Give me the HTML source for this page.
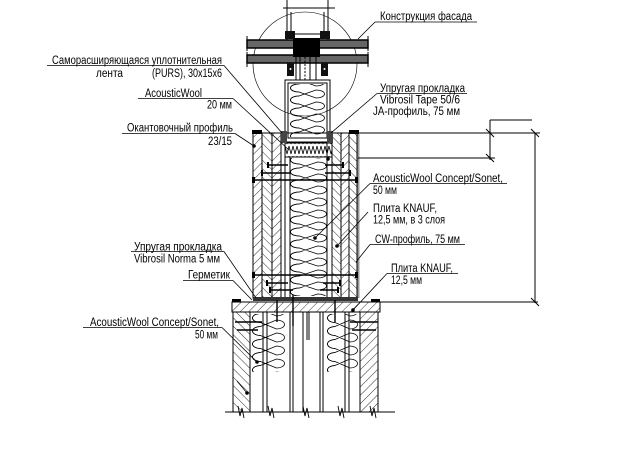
<!DOCTYPE html>
<html><head><meta charset="utf-8"><style>
html,body{margin:0;padding:0;background:#fff;}
svg{display:block}
text{font-family:"Liberation Sans","DejaVu Sans",sans-serif;font-size:11.5px;fill:#000}
</style></head><body>
<svg width="641" height="453" viewBox="0 0 641 453" xmlns="http://www.w3.org/2000/svg">
<defs>
<pattern id="hA" width="6" height="6" patternUnits="userSpaceOnUse" patternTransform="rotate(45)"><line x1="0" y1="0" x2="0" y2="6" stroke="#000" stroke-width="0.8"/></pattern>
<pattern id="hB" width="6" height="6" patternUnits="userSpaceOnUse" patternTransform="rotate(-45)"><line x1="0" y1="0" x2="0" y2="6" stroke="#000" stroke-width="0.8"/></pattern>
<path id="cM" d="M9.5,-4 A9 4 0 0 0 9.5,4 L27.5,10 A9 4 0 0 0 27.5,2 L9.5,8 A9 4 0 0 0 9.5,16" fill="none" stroke="#000" stroke-width="0.8"/>
<path id="cJ" d="M9,-4 A8.5 4 0 0 0 9,4 L26,10 A8.5 4 0 0 0 26,2 L9,8 A8.5 4 0 0 0 9,16" fill="none" stroke="#000" stroke-width="0.8"/>
<path id="cL" d="M8.5,-4.5 A8 4.5 0 0 0 8.5,4.5 L24.5,11 A8 4.5 0 0 0 24.5,2 L8.5,8.5 A8 4.5 0 0 0 8.5,17.5" fill="none" stroke="#000" stroke-width="0.8"/>
<path id="cR" d="M8,-4.5 A7.5 4.5 0 0 0 8,4.5 L23,11 A7.5 4.5 0 0 0 23,2 L8,8.5 A7.5 4.5 0 0 0 8,17.5" fill="none" stroke="#000" stroke-width="0.8"/>
<pattern id="insM" x="290" y="160" width="37" height="12" patternUnits="userSpaceOnUse"><use href="#cM" y="-12"/><use href="#cM"/><use href="#cM" y="12"/></pattern>
<pattern id="insJ" x="290" y="88" width="35" height="12" patternUnits="userSpaceOnUse"><use href="#cJ" y="-12"/><use href="#cJ"/><use href="#cJ" y="12"/></pattern>
<pattern id="insL" x="252" y="318" width="33" height="13" patternUnits="userSpaceOnUse"><use href="#cL" y="-13"/><use href="#cL"/><use href="#cL" y="13"/></pattern>
<pattern id="insR" x="327" y="318" width="31" height="13" patternUnits="userSpaceOnUse"><use href="#cR" y="-13"/><use href="#cR"/><use href="#cR" y="13"/></pattern>
<pattern id="zz" x="285" y="145" width="4" height="10" patternUnits="userSpaceOnUse"><path d="M0,1 L2,9 L4,1" fill="none" stroke="#000" stroke-width="0.8"/></pattern>
</defs>

<!-- ===== Facade ===== -->
<g stroke="#000" fill="none" stroke-width="1">
<circle cx="305" cy="64" r="52" stroke-width="0.6"/>
<line x1="287" y1="0" x2="287" y2="40"/>
<line x1="328" y1="0" x2="328" y2="40"/>
<line x1="283" y1="8" x2="335" y2="8"/>
<path d="M291,12 V31 Q291,34 294,34 H321 Q324,34 324,31 V12"/>
<rect x="247" y="40" width="121" height="8" fill="#666" stroke-width="1.5"/>
<rect x="247" y="55" width="121" height="8" fill="#666" stroke-width="1.5"/>
<line x1="247" y1="36" x2="247" y2="51"/><line x1="368" y1="36" x2="368" y2="51"/>
<line x1="247" y1="52" x2="247" y2="67"/><line x1="368" y1="52" x2="368" y2="67"/>
<line x1="296" y1="57" x2="296" y2="80"/><line x1="300" y1="57" x2="300" y2="80"/>
<line x1="305" y1="57" x2="305" y2="80" stroke-dasharray="2,1.5"/>
<line x1="310" y1="57" x2="310" y2="80"/><line x1="316" y1="57" x2="316" y2="80"/>
<rect x="285" y="80" width="45" height="62"/>
<rect x="288" y="83" width="39" height="55"/>
</g>
<rect x="293" y="38" width="27" height="19" fill="#000"/>
<rect x="285" y="31" width="10" height="8" fill="#111"/>
<rect x="320" y="31" width="10" height="8" fill="#111"/>
<rect x="287" y="63" width="7" height="13" fill="#111"/>
<rect x="321" y="63" width="7" height="13" fill="#111"/>
<circle cx="290.5" cy="69" r="1" fill="#fff"/><circle cx="324.5" cy="69" r="1" fill="#fff"/>
<rect x="290" y="84" width="35" height="53" fill="url(#insJ)"/>

<!-- ===== Upper wall ===== -->
<g stroke="#000" stroke-width="1">
<rect x="253" y="133" width="9" height="165" fill="url(#hA)"/>
<rect x="262" y="133" width="10" height="165" fill="url(#hB)"/>
<rect x="272" y="133" width="9" height="165" fill="url(#hA)"/>
<rect x="332" y="133" width="9" height="165" fill="url(#hB)"/>
<rect x="341" y="133" width="8" height="165" fill="url(#hA)"/>
<rect x="349" y="133" width="8" height="165" fill="url(#hB)"/>
<line x1="285" y1="142" x2="285" y2="297"/>
<line x1="290" y1="157" x2="290" y2="297"/>
<line x1="327" y1="142" x2="327" y2="297"/>
<line x1="253" y1="133" x2="540" y2="133"/>
<rect x="285" y="143" width="47" height="14" fill="url(#zz)"/>
</g>
<line x1="358.5" y1="133" x2="358.5" y2="298" stroke="#999" stroke-width="2"/>
<rect x="290" y="158" width="37" height="138" fill="url(#insM)"/>
<rect x="252" y="130" width="10" height="4" fill="#000"/>
<rect x="349" y="130" width="10" height="4" fill="#000"/>
<rect x="281" y="131" width="6" height="12" fill="#444"/>
<rect x="327" y="131" width="6" height="12" fill="#444"/>

<!-- screws upper -->
<g stroke="#000" stroke-width="1.4">
<line x1="253" y1="180" x2="357" y2="180"/>
<line x1="253" y1="275" x2="357" y2="275"/>
<line x1="268" y1="165" x2="288" y2="165"/><line x1="325" y1="165" x2="343" y2="165"/>
<line x1="262" y1="173" x2="290" y2="173"/><line x1="325" y1="173" x2="350" y2="173"/>
<line x1="267" y1="283" x2="288" y2="283"/><line x1="323" y1="283" x2="340" y2="283"/>
<line x1="270" y1="290" x2="293" y2="290"/><line x1="320" y1="290" x2="338" y2="290"/>
</g>
<g fill="#000">
<rect x="252" y="177" width="3" height="6"/><rect x="355" y="177" width="3" height="6"/>
<rect x="252" y="272" width="3" height="6"/><rect x="355" y="272" width="3" height="6"/>
<rect x="267" y="162" width="2" height="6"/><rect x="342" y="162" width="2" height="6"/>
<rect x="261" y="170" width="2" height="6"/><rect x="349" y="170" width="2" height="6"/>
<rect x="266" y="280" width="2" height="6"/><rect x="339" y="280" width="2" height="6"/>
<rect x="269" y="287" width="2" height="6"/><rect x="337" y="287" width="2" height="6"/>
</g>

<!-- strip + slab -->
<rect x="253" y="297" width="105" height="4" fill="#333"/>
<g stroke="#000" stroke-width="1">
<rect x="232" y="302" width="148" height="10" fill="url(#hA)"/>
<line x1="380" y1="302" x2="538" y2="302"/>
</g>
<rect x="232" y="299" width="9" height="3" fill="#000"/>
<rect x="371" y="299" width="9" height="3" fill="#000"/>

<!-- ===== Lower wall ===== -->
<g stroke="#000" stroke-width="1">
<rect x="233" y="312" width="17" height="100" fill="url(#hB)"/>
<rect x="360" y="312" width="18" height="100" fill="url(#hA)"/>
<line x1="263" y1="312" x2="263" y2="412"/><line x1="267" y1="312" x2="267" y2="412"/>
<line x1="290" y1="312" x2="290" y2="412"/><line x1="293" y1="312" x2="293" y2="412"/>
<line x1="303" y1="312" x2="303" y2="412"/>
<line x1="307" y1="312" x2="307" y2="340"/><line x1="309" y1="312" x2="309" y2="340"/>
<line x1="320" y1="312" x2="320" y2="412"/><line x1="323" y1="312" x2="323" y2="412"/>
<line x1="345" y1="312" x2="345" y2="412"/><line x1="349" y1="312" x2="349" y2="412"/>
<line x1="225" y1="412" x2="395" y2="412"/>
</g>
<rect x="252" y="314" width="33" height="58" fill="url(#insL)"/>
<rect x="327" y="314" width="31" height="58" fill="url(#insR)"/>
<g stroke="#000" stroke-width="0.9" fill="none">
<path d="M238,406 L240,416 L242,408 L244,418"/>
<path d="M268,406 L270,416 L272,408 L274,418"/>
<path d="M303,406 L305,416 L307,408 L309,418"/>
<path d="M338,406 L340,416 L342,408 L344,418"/>
<path d="M370,406 L372,416 L374,408 L376,418"/>
</g>
<g stroke="#000" stroke-width="1.4">
<line x1="235" y1="322" x2="262" y2="322"/><line x1="350" y1="322" x2="378" y2="322"/>
<line x1="237" y1="330" x2="258" y2="330"/><line x1="352" y1="330" x2="376" y2="330"/>
<line x1="277" y1="300" x2="277" y2="322"/>
<line x1="293" y1="295" x2="293" y2="326"/>
<line x1="335" y1="300" x2="335" y2="322"/>
</g>

<!-- ===== Dimensions ===== -->
<g stroke="#000" stroke-width="1" fill="none">
<line x1="535" y1="133" x2="535" y2="303"/>
<line x1="531" y1="129" x2="539" y2="137"/>
<line x1="531" y1="298" x2="539" y2="306"/>
<line x1="490" y1="120" x2="532" y2="120"/>
<line x1="490" y1="120" x2="490" y2="160"/>
<line x1="486" y1="129" x2="494" y2="137"/>
<line x1="486" y1="154" x2="494" y2="162"/>
<line x1="358" y1="158" x2="495" y2="158"/>
</g>

<!-- ===== Leaders ===== -->
<g stroke="#000" stroke-width="0.8" fill="none">
<line x1="375" y1="22" x2="477" y2="22"/><line x1="375" y1="22" x2="358" y2="39"/>
<line x1="377" y1="93.5" x2="467" y2="93.5"/><line x1="377" y1="93.5" x2="331" y2="133"/>
<line x1="47" y1="65.5" x2="224" y2="65.5"/><line x1="224" y1="65.5" x2="282" y2="133"/>
<line x1="138" y1="98.5" x2="233" y2="98.5"/><line x1="233" y1="98.5" x2="289" y2="150"/>
<line x1="122" y1="133.5" x2="235" y2="133.5"/><line x1="235" y1="133.5" x2="254" y2="146"/>
<line x1="370" y1="183.5" x2="507" y2="183.5"/><line x1="370" y1="183.5" x2="315" y2="238"/>
<line x1="368" y1="212" x2="337" y2="246"/>
<line x1="370" y1="244.5" x2="465" y2="244.5"/><line x1="370" y1="244.5" x2="356" y2="262"/>
<line x1="387" y1="273.5" x2="458" y2="273.5"/><line x1="387" y1="273.5" x2="353" y2="310"/>
<line x1="131" y1="251.5" x2="224" y2="251.5"/><line x1="224" y1="251.5" x2="256" y2="298"/>
<line x1="183" y1="280.5" x2="233" y2="280.5"/><line x1="233" y1="280.5" x2="252" y2="300"/>
<line x1="83" y1="327.5" x2="222" y2="327.5"/><line x1="222" y1="327.5" x2="257" y2="362"/>
<line x1="237" y1="381" x2="247" y2="393"/>
</g>
<g fill="#000">
<circle cx="254" cy="146" r="1.8"/><circle cx="315" cy="238" r="1.8"/>
<circle cx="337" cy="246" r="1.8"/><circle cx="353" cy="310" r="1.8"/>
<circle cx="257" cy="362" r="1.8"/><circle cx="247" cy="393" r="1.8"/>
<circle cx="328" cy="159" r="1.8"/>
</g>

<!-- ===== Labels ===== -->
<text x="380" y="20" textLength="92" lengthAdjust="spacingAndGlyphs">Конструкция фасада</text>
<text x="380" y="92" textLength="85" lengthAdjust="spacingAndGlyphs">Упругая прокладка</text>
<text x="380" y="103.5" textLength="80" lengthAdjust="spacingAndGlyphs">Vibrosil Tape 50/6</text>
<text x="373" y="115" textLength="87" lengthAdjust="spacingAndGlyphs">JA-профиль, 75 мм</text>

<text x="52" y="64" textLength="170" lengthAdjust="spacingAndGlyphs">Саморасширяющаяся уплотнительная</text>
<text x="96" y="77" textLength="27" lengthAdjust="spacingAndGlyphs">лента</text>
<text x="152" y="77" textLength="70" lengthAdjust="spacingAndGlyphs">(PURS), 30x15x6</text>
<text x="145" y="97" textLength="57" lengthAdjust="spacingAndGlyphs">AcousticWool</text>
<text x="207" y="108.5" textLength="25" lengthAdjust="spacingAndGlyphs">20 мм</text>
<text x="127" y="131.5" textLength="106" lengthAdjust="spacingAndGlyphs">Окантовочный профиль</text>
<text x="208" y="145" textLength="24" lengthAdjust="spacingAndGlyphs">23/15</text>

<text x="373" y="182" textLength="130" lengthAdjust="spacingAndGlyphs">AcousticWool Concept/Sonet,</text>
<text x="373" y="194" textLength="24" lengthAdjust="spacingAndGlyphs">50 мм</text>
<text x="373" y="212" textLength="64" lengthAdjust="spacingAndGlyphs">Плита KNAUF,</text>
<text x="373" y="223.5" textLength="72" lengthAdjust="spacingAndGlyphs">12,5 мм, в 3 слоя</text>
<text x="375" y="243" textLength="85" lengthAdjust="spacingAndGlyphs">CW-профиль, 75 мм</text>
<text x="391" y="272" textLength="62" lengthAdjust="spacingAndGlyphs">Плита KNAUF,</text>
<text x="391" y="284" textLength="31" lengthAdjust="spacingAndGlyphs">12,5 мм</text>

<text x="134" y="250.5" textLength="88" lengthAdjust="spacingAndGlyphs">Упругая прокладка</text>
<text x="134" y="262.5" textLength="86" lengthAdjust="spacingAndGlyphs">Vibrosil Norma 5 мм</text>
<text x="188" y="278.5" textLength="42" lengthAdjust="spacingAndGlyphs">Герметик</text>
<text x="90" y="326" textLength="129" lengthAdjust="spacingAndGlyphs">AcousticWool Concept/Sonet,</text>
<text x="195" y="338.5" textLength="23" lengthAdjust="spacingAndGlyphs">50 мм</text>
</svg>
</body></html>
